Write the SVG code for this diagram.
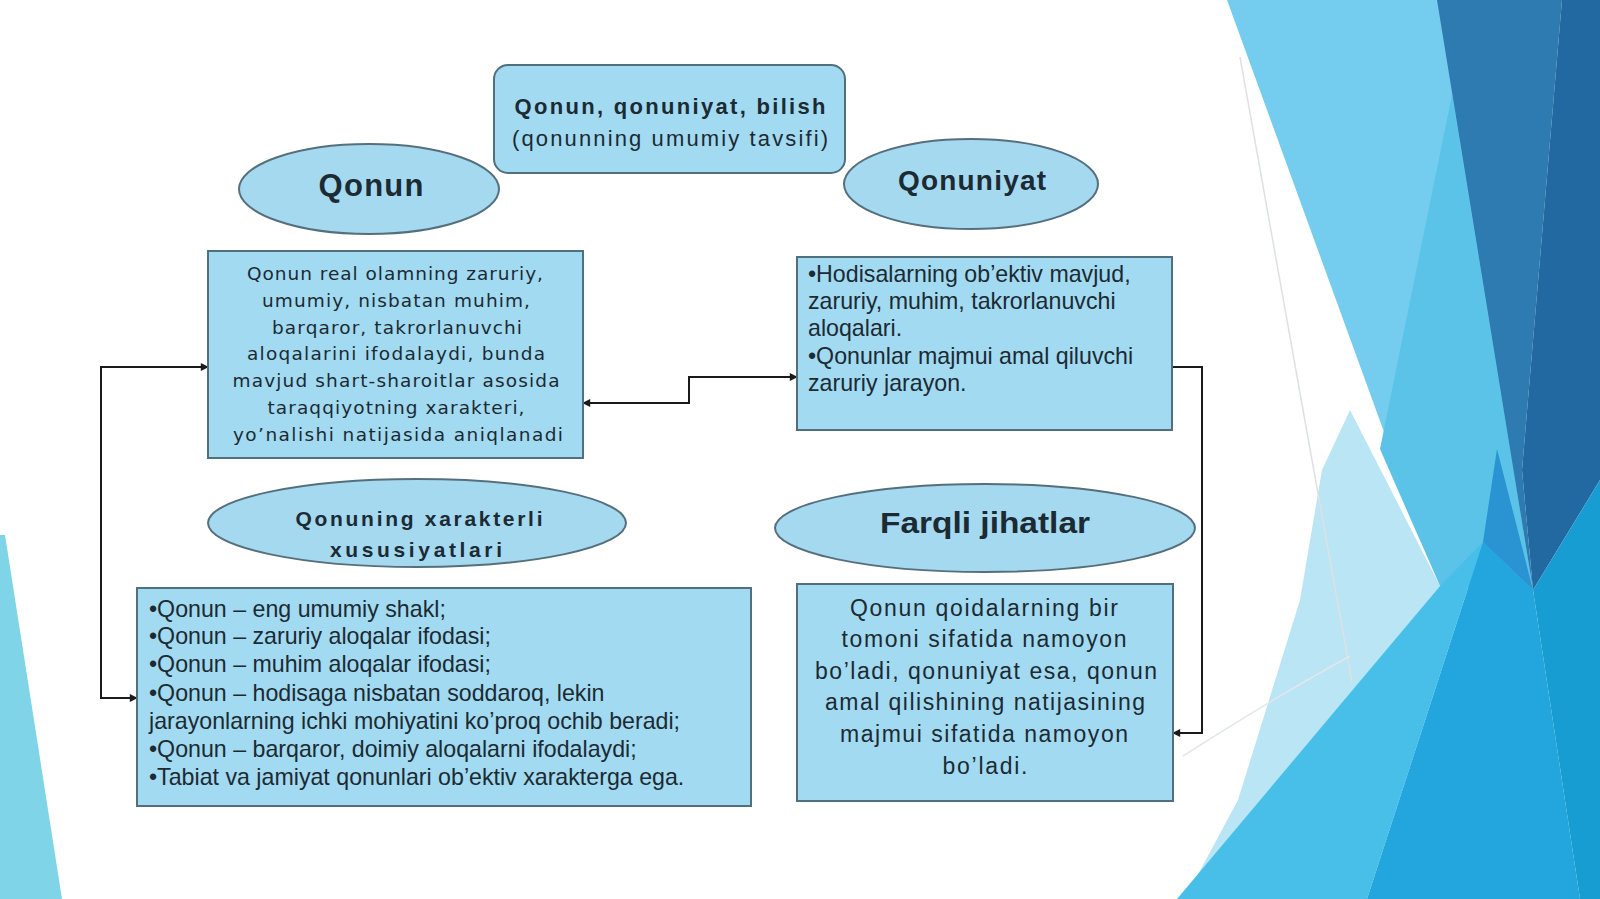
<svg xmlns="http://www.w3.org/2000/svg" width="1600" height="899" viewBox="0 0 1600 899">
<style>
.box{fill:#a2daf1;stroke:#50707e;stroke-width:2}
.ell{fill:#a4d9ef;stroke:#55707c;stroke-width:2}
.t{font-family:"Liberation Sans",Arial,sans-serif;fill:#1c2a33}
.v{font-family:"DejaVu Sans",Verdana,sans-serif;fill:#1c2a33;font-size:18.5px}
.b{font-weight:bold}
.con{fill:none;stroke:#1a1a1a;stroke-width:2}
</style>
<defs>
<marker id="ar" viewBox="0 0 10 10" refX="9" refY="5" markerWidth="9" markerHeight="8" markerUnits="userSpaceOnUse" orient="auto-start-reverse">
<path d="M0,0 L10,5 L0,10 z" fill="#1a1a1a"/>
</marker>
</defs>
<rect width="1600" height="899" fill="#ffffff"/>
<g id="background">
<polygon points="0,535 5,535 62,899 0,899" fill="#7fd4e8"/>
<polygon points="1227,0 1440,0 1533,590 1440,586" fill="#74ccef"/>
<polygon points="1452,95 1533,590 1440,586 1380,449" fill="#5ac3e7"/>
<polygon points="1437,0 1562,0 1522,470 1533,590" fill="#2d7bb0"/>
<polygon points="1562,0 1600,0 1600,480 1533,590 1522,470" fill="#2268a1"/>
<polygon points="1350,410 1440,586 1195,880 1238,800 1300,600 1322,470" fill="#b9e5f4"/>
<polygon points="1177,899 1440,586 1483,542 1367,899" fill="#48bfe8"/>
<polygon points="1483,542 1533,590 1580,899 1367,899" fill="#22a6dd"/>
<polygon points="1497,449 1533,590 1483,542" fill="#2a93d2"/>
<polygon points="1533,590 1600,480 1600,899 1580,899" fill="#189dd2"/>
<polyline points="1240,57 1310,449 1352,682" fill="none" stroke="#dde1e3" stroke-width="1.5"/>
<path d="M1183,756 Q1270,700 1350,656" fill="none" stroke="#e3e7e9" stroke-width="1.5"/>
</g>
<g id="connectors">
<path class="con" d="M208,367 H101 V698 H137" marker-start="url(#ar)" marker-end="url(#ar)"/>
<path class="con" d="M797,377 H689 V403 H583" marker-start="url(#ar)" marker-end="url(#ar)"/>
<path class="con" d="M1172,367 H1202 V733 H1173" marker-end="url(#ar)"/>
</g>
<g id="node-title">
<rect class="box" x="494" y="65" width="351" height="108" rx="14"/>
<text class="t b" x="670" y="114" font-size="22" text-anchor="middle" textLength="311">Qonun, qonuniyat, bilish</text>
<text class="t" x="670" y="146" font-size="22" text-anchor="middle" textLength="316">(qonunning umumiy tavsifi)</text>
</g>
<g id="node-qonun">
<ellipse class="ell" cx="369" cy="189" rx="130" ry="45"/>
<text class="t b" x="371" y="196" font-size="31" text-anchor="middle" textLength="105">Qonun</text>
</g>
<g id="node-qonuniyat">
<ellipse class="ell" cx="971" cy="184" rx="127" ry="45"/>
<text class="t b" x="972" y="190" font-size="28" text-anchor="middle" textLength="148">Qonuniyat</text>
</g>
<g id="node-qonun-text">
<rect class="box" x="208" y="251" width="375" height="207"/>
<text class="v" x="395" y="280" text-anchor="middle" textLength="296">Qonun real olamning zaruriy,</text>
<text class="v" x="396" y="307" text-anchor="middle" textLength="268">umumiy, nisbatan muhim,</text>
<text class="v" x="397" y="334" text-anchor="middle" textLength="250">barqaror, takrorlanuvchi</text>
<text class="v" x="396" y="360" text-anchor="middle" textLength="298">aloqalarini ifodalaydi, bunda</text>
<text class="v" x="396" y="387" text-anchor="middle" textLength="327">mavjud shart-sharoitlar asosida</text>
<text class="v" x="396" y="414" text-anchor="middle" textLength="257">taraqqiyotning xarakteri,</text>
<text class="v" x="398" y="441" text-anchor="middle" textLength="330">yo’nalishi natijasida aniqlanadi</text>
</g>
<g id="node-qonuniyat-text">
<rect class="box" x="797" y="257" width="375" height="173"/>
<text class="t" x="808" y="282" font-size="23.2">•Hodisalarning ob’ektiv mavjud,</text>
<text class="t" x="808" y="309" font-size="23.2">zaruriy, muhim, takrorlanuvchi</text>
<text class="t" x="808" y="336" font-size="23.2">aloqalari.</text>
<text class="t" x="808" y="364" font-size="23.2">•Qonunlar majmui amal qiluvchi</text>
<text class="t" x="808" y="391" font-size="23.2">zaruriy jarayon.</text>
</g>
<g id="node-xususiyat">
<ellipse class="ell" cx="417" cy="523" rx="209" ry="44"/>
<text class="t b" x="419" y="526" font-size="21" text-anchor="middle" textLength="247">Qonuning xarakterli</text>
<text class="t b" x="416" y="557" font-size="21" text-anchor="middle" textLength="172">xususiyatlari</text>
</g>
<g id="node-farqli">
<ellipse class="ell" cx="985" cy="528" rx="210" ry="44"/>
<text class="t b" x="985" y="533" font-size="29" text-anchor="middle" textLength="210" lengthAdjust="spacingAndGlyphs">Farqli jihatlar</text>
</g>
<g id="node-xususiyat-text">
<rect class="box" x="137" y="588" width="614" height="218"/>
<text class="t" x="149" y="617" font-size="23.2">•Qonun – eng umumiy shakl;</text>
<text class="t" x="149" y="644" font-size="23.2">•Qonun – zaruriy aloqalar ifodasi;</text>
<text class="t" x="149" y="672" font-size="23.2">•Qonun – muhim aloqalar ifodasi;</text>
<text class="t" x="149" y="701" font-size="23.2">•Qonun – hodisaga nisbatan soddaroq, lekin</text>
<text class="t" x="149" y="729" font-size="23.2">jarayonlarning ichki mohiyatini ko’proq ochib beradi;</text>
<text class="t" x="149" y="757" font-size="23.2">•Qonun – barqaror, doimiy aloqalarni ifodalaydi;</text>
<text class="t" x="149" y="785" font-size="23.2">•Tabiat va jamiyat qonunlari ob’ektiv xarakterga ega.</text>
</g>
<g id="node-farqli-text">
<rect class="box" x="797" y="584" width="376" height="217"/>
<text class="t" x="984" y="616" font-size="23" text-anchor="middle" textLength="268">Qonun qoidalarning bir</text>
<text class="t" x="984" y="647" font-size="23" text-anchor="middle" textLength="285">tomoni sifatida namoyon</text>
<text class="t" x="986" y="679" font-size="23" text-anchor="middle" textLength="342">bo’ladi, qonuniyat esa, qonun</text>
<text class="t" x="985" y="710" font-size="23" text-anchor="middle" textLength="320">amal qilishining natijasining</text>
<text class="t" x="984" y="742" font-size="23" text-anchor="middle" textLength="288">majmui sifatida namoyon</text>
<text class="t" x="985" y="774" font-size="23" text-anchor="middle" textLength="85">bo’ladi.</text>
</g>
</svg>
